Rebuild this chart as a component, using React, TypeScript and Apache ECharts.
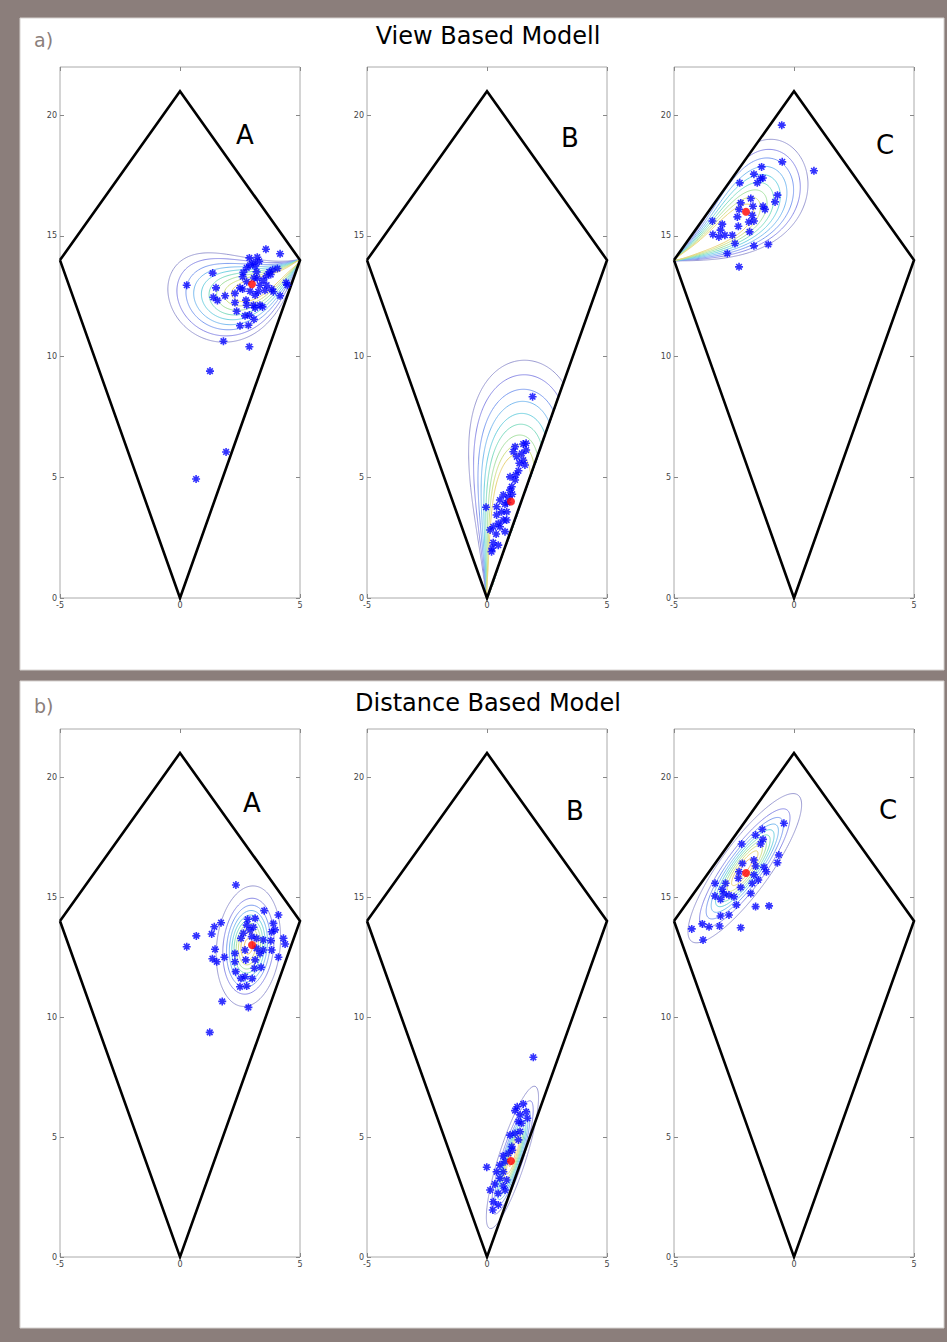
import React, { useEffect, useRef } from "react";
import * as echarts from "echarts";

const W = 947;
const H = 1342;
const FONT = "DejaVu Sans";

// ---------- data ----------
const kiteX = [-5, 0, 5, 0, -5];
const kiteY = [14, 21, 14, 0, 14];
const xTicks = [-5, 0, 5];
const yTicks = [0, 5, 10, 15, 20];
const panelNames = ["A", "B", "C"];
const rowTitles = ["View Based Modell", "Distance Based Model"];
const rowTags = ["a)", "b)"];

const truePoints = [[3, 13], [1, 4], [-2, 16]];

const viewAPoints = [
  [3.58, 14.45], [4.17, 14.26], [2.89, 14.09], [3.22, 14.12], [2.92, 13.79], [3.13, 13.76], [3.3, 13.95],
  [2.78, 13.68], [2.64, 13.49], [1.36, 13.46], [3.86, 13.6], [4.06, 13.65], [3.78, 13.4], [3.61, 13.35],
  [3.08, 13.26], [3.22, 13.24], [2.78, 13.1], [3.33, 12.96], [3.61, 12.96], [3.47, 13.17], [2.61, 12.8],
  [2.92, 12.71], [3.26, 12.69], [3.13, 12.55], [3.82, 12.8], [3.89, 12.69], [4.42, 13.07], [4.47, 12.96],
  [4.17, 12.52], [1.5, 12.85], [1.39, 12.46], [1.56, 12.33], [1.88, 12.52], [2.29, 12.62], [2.29, 12.24],
  [2.75, 12.34], [2.78, 12.13], [3.06, 12.13], [3.33, 12.13], [3.44, 12.06], [2.36, 11.88], [3.13, 12.02],
  [2.71, 11.69], [2.89, 11.72], [2.85, 11.3], [2.5, 11.28], [3.08, 11.55], [1.81, 10.64], [2.89, 10.41],
  [2.61, 13.31], [2.5, 12.85], [3.54, 12.75], [3.19, 13.51], [3.72, 13.51], [3.06, 13.9], [0.28, 12.96],
  [1.25, 9.4], [1.92, 6.05], [0.67, 4.93],
];
const viewBPoints = [
  [1.9, 8.34], [1.51, 6.38], [1.17, 6.27], [1.63, 6.13], [1.1, 6.06], [1.45, 5.99], [1.51, 5.71], [1.35, 5.58],
  [1.58, 5.51], [1.31, 5.27], [0.96, 5.02], [1.17, 4.89], [1.03, 4.61], [0.68, 4.27], [0.89, 4.19], [0.54, 4.06],
  [0.75, 3.89], [-0.04, 3.76], [0.4, 3.78], [0.61, 3.57], [0.82, 3.57], [0.4, 3.44], [0.68, 3.23], [0.47, 3.09],
  [0.26, 2.95], [0.13, 2.82], [0.75, 2.75], [0.38, 2.65], [0.26, 2.29], [0.47, 2.19], [0.19, 1.92], [0.22, 2.06],
  [0.96, 4.47], [0.82, 3.23], [0.54, 2.95], [1.24, 5.85], [1.63, 6.41], [1.05, 4.3], [0.85, 3.95], [1.2, 5.1],
];
const viewCPoints = [
  [-0.51, 19.59], [-0.49, 18.07], [0.83, 17.7], [-1.35, 17.86], [-1.67, 17.56], [-2.26, 17.2], [-1.39, 17.38],
  [-1.3, 17.4], [-1.53, 17.2], [-0.69, 16.69], [-0.79, 16.41], [-2.22, 16.37], [-1.8, 16.55], [-1.71, 16.23],
  [-2.29, 16.1], [-1.29, 16.23], [-1.21, 16.1], [-2.36, 15.79], [-1.74, 15.86], [-1.67, 15.62], [-1.88, 15.58],
  [-3.4, 15.62], [-2.99, 15.49], [-2.32, 15.4], [-3.06, 15.24], [-3.38, 15.06], [-3.13, 14.96], [-2.88, 15.03],
  [-2.57, 15.03], [-1.85, 15.17], [-2.46, 14.69], [-1.67, 14.59], [-1.07, 14.65], [-2.78, 14.27], [-2.29, 13.72],
];
const distAPoints = [
  [2.33, 15.5], [3.51, 14.43], [4.1, 14.25], [1.71, 13.93], [1.43, 13.76], [0.68, 13.38], [1.32, 13.46],
  [0.28, 12.93], [1.46, 12.82], [1.35, 12.43], [1.53, 12.3], [1.85, 12.49], [2.82, 14.07], [3.13, 14.11],
  [2.78, 13.83], [3.06, 13.74], [2.64, 13.49], [2.54, 13.28], [3.19, 13.28], [3.47, 13.21], [2.71, 12.79],
  [3.19, 12.86], [3.47, 12.79], [3.82, 13.55], [3.96, 13.63], [3.89, 13.9], [3.82, 12.79], [3.79, 13.18],
  [4.38, 13.04], [4.1, 12.49], [2.29, 12.65], [2.29, 12.3], [2.74, 12.38], [3.13, 12.38], [3.38, 12.07],
  [3.1, 12.03], [2.32, 11.89], [2.71, 11.68], [3.01, 11.6], [2.54, 11.61], [2.5, 11.26], [2.78, 11.29],
  [1.76, 10.65], [2.85, 10.4], [1.24, 9.36], [4.31, 13.28], [3.33, 12.65], [2.99, 13.35], [2.92, 13.63],
];
const distBPoints = [
  [1.93, 8.32], [1.51, 6.38], [1.26, 6.26], [1.17, 6.1], [1.63, 6.05], [1.38, 5.92], [1.68, 5.78], [1.31, 5.64],
  [1.44, 5.57], [1.38, 5.22], [1.17, 5.15], [0.96, 5.08], [1.31, 4.88], [1.03, 4.6], [0.89, 4.32], [0.68, 4.21],
  [0.75, 3.97], [-0.01, 3.74], [0.54, 3.83], [0.4, 3.55], [0.68, 3.55], [0.54, 3.28], [0.82, 3.21], [0.33, 3.04],
  [0.68, 2.96], [0.13, 2.79], [0.47, 2.65], [0.26, 2.3], [0.47, 2.17], [0.24, 1.96], [0.75, 2.79], [1.05, 4.45],
];
const distCPoints = [
  [-0.42, 18.07], [-1.32, 17.82], [-1.6, 17.58], [-1.29, 17.4], [-1.39, 17.21], [-2.18, 17.21], [-0.63, 16.75],
  [-0.69, 16.43], [-2.15, 16.4], [-1.67, 16.54], [-1.6, 16.29], [-1.25, 16.24], [-1.15, 16.05], [-2.29, 16.05],
  [-1.67, 15.92], [-1.49, 15.71], [-1.74, 15.57], [-2.32, 15.78], [-2.85, 15.57], [-2.22, 15.4], [-3.29, 15.57],
  [-2.99, 15.32], [-2.92, 15.13], [-3.29, 15.04], [-3.06, 14.9], [-2.71, 15.08], [-2.5, 15.01], [-2.4, 14.67],
  [-1.8, 15.15], [-1.6, 14.6], [-1.04, 14.63], [-3.06, 14.21], [-2.71, 14.25], [-3.82, 13.88], [-3.54, 13.76],
  [-3.1, 13.79], [-2.22, 13.72], [-4.26, 13.67], [-3.79, 13.21],
];

// view based model: gaussian in (bearing, distance) seen from a kite corner
const viewVertexX = [5, 0, -5];
const viewVertexY = [14, 0, 14];
const viewTheta = [210, 76, 32];
const viewSTheta = [13, 7, 11];
const viewR = [2.7, 3.5, 3.2];
const viewSR = [1.2, 2.2, 1.6];
const viewRho = [-0.35, 0.15, 0.38];
// far reach of each contour along the ridge (outer -> inner)
const viewLevelRadii = [
  [5.7, 5.35, 5.0, 4.7, 4.4, 4.1, 3.8, 3.5, 3.2],
  [10.0, 9.4, 8.8, 8.3, 7.8, 7.35, 6.9, 6.5, 6.1],
  [6.8, 6.4, 6.05, 5.7, 5.35, 5.0, 4.65, 4.3, 3.95],
];

// distance based model: 2D gaussians
const distMeanX = [2.85, 1.06, -2.05];
const distMeanY = [12.95, 4.15, 16.2];
const distAngle = [84, 72.3, 54];
const distSMaj = [1.03, 1.27, 1.54];
const distSMin = [0.54, 0.23, 0.42];
const distLevels = [0.05, 0.15, 0.25, 0.35, 0.45, 0.55, 0.65, 0.75, 0.85, 0.95];

const levelColors = [
  "#9a9ad2", "#8a8ae6", "#7c9cf0", "#78baf0", "#6ed0e0", "#7edcc0", "#a6e0a0", "#cfe084", "#e8d274", "#f0bc70",
];

// ---------- contour machinery ----------
const GX0 = -5, GX1 = 5, GY0 = 0, GY1 = 22, STEP = 0.04;
const NX = Math.round((GX1 - GX0) / STEP) + 1;
const NY = Math.round((GY1 - GY0) / STEP) + 1;

const kitePoly = [0, 1, 2, 3].map((i) => [kiteX[i], kiteY[i]]);
function insideKite(x: number, y: number) {
  let pos = false, neg = false;
  for (let k = 0; k < 4; k++) {
    const a = kitePoly[k], b = kitePoly[(k + 1) % 4];
    const c = (b[0] - a[0]) * (y - a[1]) - (b[1] - a[1]) * (x - a[0]);
    if (c > 1e-9) pos = true;
    if (c < -1e-9) neg = true;
  }
  return !(pos && neg);
}

function sampleGrid(f: (x: number, y: number) => number) {
  const v = new Float64Array(NX * NY);
  for (let j = 0; j < NY; j++) for (let i = 0; i < NX; i++) v[j * NX + i] = f(GX0 + i * STEP, GY0 + j * STEP);
  return v;
}

function contour(vals: Float64Array, L: number): number[][][] {
  const adj = new Map<number, number[]>();
  const add = (a: number, b: number) => {
    if (!adj.has(a)) adj.set(a, []);
    if (!adj.has(b)) adj.set(b, []);
    adj.get(a)!.push(b);
    adj.get(b)!.push(a);
  };
  const hk = (i: number, j: number) => (j * NX + i) * 2;
  const vk = (i: number, j: number) => (j * NX + i) * 2 + 1;
  for (let j = 0; j < NY - 1; j++) {
    for (let i = 0; i < NX - 1; i++) {
      const a = vals[j * NX + i], b = vals[j * NX + i + 1];
      const c = vals[(j + 1) * NX + i + 1], d = vals[(j + 1) * NX + i];
      const idx = (a > L ? 1 : 0) | (b > L ? 2 : 0) | (c > L ? 4 : 0) | (d > L ? 8 : 0);
      if (idx === 0 || idx === 15) continue;
      const e = [hk(i, j), vk(i + 1, j), hk(i, j + 1), vk(i, j)];
      const center = (a + b + c + d) / 4 > L;
      switch (idx) {
        case 1: case 14: add(e[3], e[0]); break;
        case 2: case 13: add(e[0], e[1]); break;
        case 3: case 12: add(e[3], e[1]); break;
        case 4: case 11: add(e[1], e[2]); break;
        case 6: case 9: add(e[0], e[2]); break;
        case 7: case 8: add(e[3], e[2]); break;
        case 5:
          if (center) { add(e[0], e[1]); add(e[3], e[2]); } else { add(e[3], e[0]); add(e[1], e[2]); }
          break;
        case 10:
          if (center) { add(e[3], e[0]); add(e[1], e[2]); } else { add(e[0], e[1]); add(e[3], e[2]); }
          break;
      }
    }
  }
  const pt = (key: number) => {
    const isV = key & 1;
    const base = key >> 1;
    const i = base % NX, j = Math.floor(base / NX);
    const va = vals[base];
    if (!isV) {
      const vb = vals[base + 1];
      const t = (L - va) / (vb - va);
      return [GX0 + (i + t) * STEP, GY0 + j * STEP];
    }
    const vb = vals[base + NX];
    const t = (L - va) / (vb - va);
    return [GX0 + i * STEP, GY0 + (j + t) * STEP];
  };
  const visited = new Set<number>();
  const lines: number[][][] = [];
  const walk = (start: number) => {
    const path = [start];
    visited.add(start);
    let cur = start;
    while (true) {
      const nb = adj.get(cur)!;
      let nxt = -1;
      for (const n of nb) if (!visited.has(n)) { nxt = n; break; }
      if (nxt < 0) {
        if (path.length > 2 && nb.includes(start)) path.push(start);
        break;
      }
      visited.add(nxt);
      path.push(nxt);
      cur = nxt;
    }
    lines.push(path.map(pt));
  };
  adj.forEach((nb, k) => { if (nb.length === 1 && !visited.has(k)) walk(k); });
  adj.forEach((_nb, k) => { if (!visited.has(k)) walk(k); });
  return lines;
}

function viewDensity(p: number) {
  const vx = viewVertexX[p], vy = viewVertexY[p], th = viewTheta[p], st = viewSTheta[p];
  const r0 = viewR[p], sr = viewSR[p], rho = viewRho[p];
  return (x: number, y: number) => {
    if (!insideKite(x, y)) return 0;
    const dx = x - vx, dy = y - vy;
    const r = Math.hypot(dx, dy);
    if (r < 1e-6) return 1e4;
    let d = (Math.atan2(dy, dx) * 180) / Math.PI - th;
    d = ((((d + 180) % 360) + 360) % 360) - 180;
    const z1 = d / st, z2 = (r - r0) / sr;
    const q = (z1 * z1 - 2 * rho * z1 * z2 + z2 * z2) / (1 - rho * rho);
    return Math.min(1e4, Math.exp(-q / 2) / r);
  };
}
function distDensity(p: number) {
  const a = (distAngle[p] * Math.PI) / 180, c = Math.cos(a), s = Math.sin(a);
  const mx = distMeanX[p], my = distMeanY[p], s1 = distSMaj[p], s2 = distSMin[p];
  return (x: number, y: number) => {
    const dx = x - mx, dy = y - my;
    const u = dx * c + dy * s, v = -dx * s + dy * c;
    return Math.exp(-0.5 * ((u * u) / (s1 * s1) + (v * v) / (s2 * s2)));
  };
}

// ---------- layout ----------
const gridLefts = [60, 367, 674];
const rowTops = [67, 729];
const rowHeights = [531, 528];
const gridWidth = 240;
const labelPos = [
  [[245, 135], [570, 138], [885, 145]],
  [[252, 803], [575, 811], [888, 810]],
];

function buildOption() {
  const grids: any[] = [];
  const xAxes: any[] = [];
  const yAxes: any[] = [];
  const series: any[] = [];
  const graphics: any[] = [
    { type: "rect", z: -10, shape: { x: 20, y: 18, width: 924, height: 652 }, style: { fill: "#ffffff", stroke: "#d6d2d0", lineWidth: 1 } },
    { type: "rect", z: -10, shape: { x: 20, y: 681, width: 924, height: 647 }, style: { fill: "#ffffff", stroke: "#d6d2d0", lineWidth: 1 } },
  ];
  const scatterSets = [
    [viewAPoints, viewBPoints, viewCPoints],
    [distAPoints, distBPoints, distCPoints],
  ];
  const tickStyle = { lineStyle: { color: "#888", width: 1 }, inside: true, length: 4 };
  const labelStyle = { fontSize: 8, color: "#444", fontFamily: FONT, margin: 3 };
  const noLine = { show: false, onZero: false };

  for (let row = 0; row < 2; row++) {
    graphics.push({
      type: "text", x: 488, y: row === 0 ? 36 : 703,
      style: { text: rowTitles[row], fontSize: 24, fontFamily: FONT, fill: "#000", align: "center", verticalAlign: "middle" },
    });
    graphics.push({
      type: "text", x: 34, y: row === 0 ? 40 : 706,
      style: { text: rowTags[row], fontSize: 19, fontFamily: FONT, fill: "#8b7e7b", align: "left", verticalAlign: "middle" },
    });
    for (let col = 0; col < 3; col++) {
      const g = row * 3 + col;
      grids.push({
        left: gridLefts[col], top: rowTops[row], width: gridWidth, height: rowHeights[row],
        show: true, borderColor: "#aaaaaa", borderWidth: 1, backgroundColor: "transparent",
      });
      xAxes.push({
        type: "value", gridIndex: g, min: -5, max: 5, position: "bottom",
        axisLine: noLine, splitLine: { show: false },
        axisTick: { ...tickStyle, customValues: xTicks },
        axisLabel: { ...labelStyle, customValues: xTicks },
      });
      xAxes.push({
        type: "value", gridIndex: g, min: -5, max: 5, position: "top",
        axisLine: noLine, splitLine: { show: false },
        axisTick: { ...tickStyle, customValues: xTicks }, axisLabel: { show: false },
      });
      yAxes.push({
        type: "value", gridIndex: g, min: 0, max: 22, position: "left",
        axisLine: noLine, splitLine: { show: false },
        axisTick: { ...tickStyle, customValues: yTicks },
        axisLabel: { ...labelStyle, customValues: yTicks },
      });
      yAxes.push({
        type: "value", gridIndex: g, min: 0, max: 22, position: "right",
        axisLine: noLine, splitLine: { show: false },
        axisTick: { ...tickStyle, customValues: yTicks }, axisLabel: { show: false },
      });
      const xi = g * 2, yi = g * 2;

      if (row === 0) {
        const vals = sampleGrid(viewDensity(col));
        const r0 = viewR[col], sr = viewSR[col];
        viewLevelRadii[col].forEach((rk, li) => {
          const L = Math.exp(-0.5 * ((rk - r0) / sr) ** 2) / rk;
          contour(vals, L).forEach((ln) => {
            series.push({
              type: "line", xAxisIndex: xi, yAxisIndex: yi, data: ln, showSymbol: false, symbol: "none",
              silent: true, z: 2, lineStyle: { color: levelColors[li], width: 1 },
            });
          });
        });
      } else {
        const vals = sampleGrid(distDensity(col));
        distLevels.forEach((L, li) => {
          contour(vals, L).forEach((ln) => {
            series.push({
              type: "line", xAxisIndex: xi, yAxisIndex: yi, data: ln, showSymbol: false, symbol: "none",
              silent: true, z: 2, lineStyle: { color: levelColors[li], width: 1 },
            });
          });
        });
      }

      series.push({
        type: "line", xAxisIndex: xi, yAxisIndex: yi, data: kiteX.map((x, i) => [x, kiteY[i]]),
        showSymbol: false, symbol: "none", silent: true, z: 3, clip: false,
        lineStyle: { color: "#000", width: 2.6, join: "miter" },
      });
      series.push({
        type: "scatter", xAxisIndex: xi, yAxisIndex: yi, data: scatterSets[row][col], silent: true, z: 4,
        symbol: "path://M5,0L5,10M0,5L10,5M1.5,1.5L8.5,8.5M1.5,8.5L8.5,1.5", symbolSize: 8,
        itemStyle: { color: "rgba(0,0,0,0)", borderColor: "#0000ff", borderWidth: 1.6 },
      });
      series.push({
        type: "scatter", xAxisIndex: xi, yAxisIndex: yi, data: [truePoints[col]], silent: true, z: 5,
        symbol: "circle", symbolSize: 8, itemStyle: { color: "#ff0000" },
      });
      graphics.push({
        type: "text", x: labelPos[row][col][0], y: labelPos[row][col][1],
        style: { text: panelNames[col], fontSize: 26, fontFamily: FONT, fill: "#000", align: "center", verticalAlign: "middle" },
      });
    }
  }
  return {
    animation: false,
    backgroundColor: "#8b7e7b",
    grid: grids,
    xAxis: xAxes,
    yAxis: yAxes,
    series,
    graphic: { elements: graphics },
  };
}

export default function App() {
  const ref = useRef<HTMLDivElement>(null);
  useEffect(() => {
    document.body.style.margin = "0";
    const chart = echarts.init(ref.current!, null, { renderer: "svg", width: W, height: H });
    chart.setOption(buildOption() as any);
    return () => chart.dispose();
  }, []);
  return <div ref={ref} style={{ width: W, height: H }} />;
}
